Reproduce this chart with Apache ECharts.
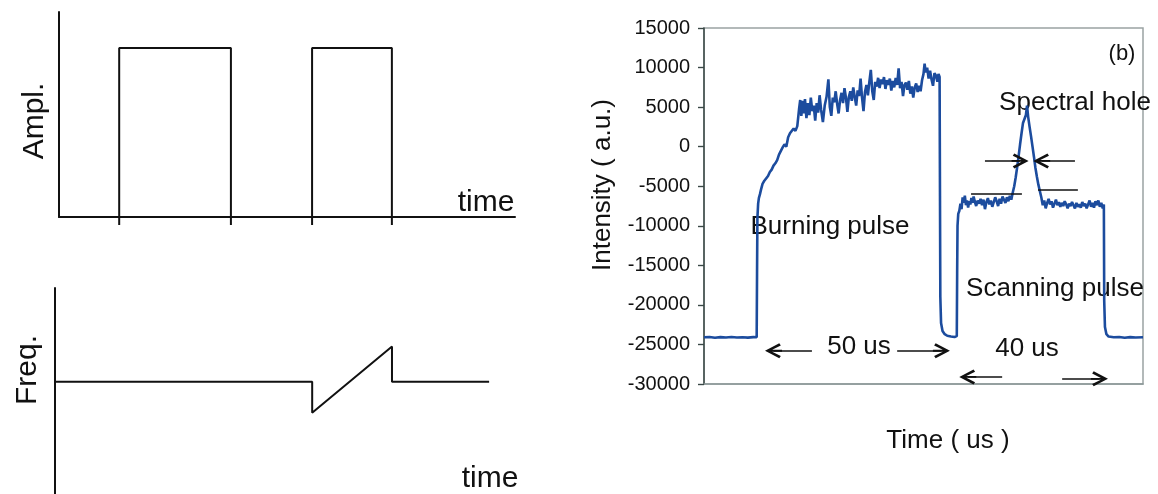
<!DOCTYPE html>
<html>
<head>
<meta charset="utf-8">
<script src="https://cdn.jsdelivr.net/npm/echarts/dist/echarts.min.js"></script>
<style>
html,body{margin:0;padding:0;background:#fff;}
#main{width:1158px;height:494px;}
</style>
</head>
<body>
<div id="main"></div>
<script>
// ---------- DATA ----------
// (a) schematic: amplitude of the two pulses (time in arbitrary units 0..100)
const burnPulseShape = [[13.2,-0.047],[13.2,1],[37.7,1],[37.7,-0.047]];
const scanPulseShape = [[55.5,-0.047],[55.5,1],[73.0,1],[73.0,-0.047]];
// (a) schematic: frequency (flat, then chirp during the scanning pulse)
const freqShape = [[0,0],[56.4,0],[56.4,-1],[73.9,1.125],[73.9,0],[95.2,0]];

// (b) measured trace: [time (us), intensity (a.u.)]
const baselineBefore = [[0,-24100],[1.5,-24050],[3,-24150],[4.5,-24080],[6,-24120],[7.5,-24060],[9,-24130],[10.5,-24090],[12,-24140],[13.5,-24070],[14.4,-24100]];
const burningPulse = [[14.5,-16000],[14.6,-9000],[14.8,-7200],[15.0,-6500],[15.3,-6000],[15.6,-5400],[16.0,-4700],[16.5,-4300],[17.0,-4500],[17.5,-3700],[18.0,-3200],[18.5,-2900],[19.0,-2400],[19.5,-2100],[20.0,-1700],[20.5,-1000],[21.0,-900],[21.5,-100],[22.0,300],[22.5,0],[23.0,1200],[23.5,1700],[24.0,1500],[24.5,2300],[25.0,2000],[25.5,2600],[26.0,4800],[26.3,5900],[26.6,3900],[27.0,5800],[27.3,4200],[27.6,6000],[28.0,3600],[28.4,5500],[28.8,4000],[29.2,6200],[29.6,4500],[30.0,5200],[30.4,3300],[30.8,5500],[31.2,4300],[31.6,6500],[32.0,4700],[32.5,3100],[33.0,5200],[33.5,6300],[34.0,8500],[34.4,5000],[34.8,3900],[35.2,6200],[35.6,5600],[36.0,7000],[36.4,5400],[36.8,4200],[37.2,5900],[37.6,6800],[38.0,5500],[38.4,7400],[38.8,6200],[39.2,4400],[39.6,6300],[40.0,7000],[40.4,5800],[40.8,7500],[41.2,6300],[41.6,5200],[42.0,7100],[42.4,6400],[42.8,8600],[43.2,6200],[43.6,4500],[44.0,6900],[44.4,7800],[44.8,6500],[45.2,8200],[45.6,9700],[46.0,7000],[46.4,5900],[46.8,8200],[47.2,7600],[47.6,8700],[48.0,7400],[48.4,8500],[48.8,7900],[49.2,8800],[49.6,7300],[50.0,8400],[50.4,7800],[50.8,8600],[51.2,7100],[51.6,8300],[52.0,7500],[52.4,8700],[52.8,7800],[53.2,9900],[53.6,7400],[54.0,8200],[54.4,6400],[54.8,7800],[55.2,8100],[55.6,7200],[56.0,8300],[56.4,6700],[56.8,7600],[57.2,6200],[57.6,7500],[58.0,8000],[58.4,6900],[58.8,7700],[59.2,7000],[59.6,8400],[60.0,9200],[60.3,10500],[60.6,9400],[61.0,10000],[61.4,8600],[61.8,9600],[62.2,8500],[62.6,7700],[63.0,9300],[63.4,9000],[63.8,8200],[64.1,9200],[64.4,8800],[64.5,8600]];
const gapBetween = [[64.6,-19000],[64.8,-22300],[65.2,-23300],[65.8,-23700],[66.5,-23900],[67.5,-24000],[68.5,-24050],[69.1,-23950]];
const scanningPulse = [[69.2,-16000],[69.3,-10000],[69.5,-8500],[69.8,-8100],[70.1,-7200],[70.4,-7900],[70.7,-6400],[71.0,-7100],[71.3,-6200],[71.6,-7400],[71.9,-6800],[72.2,-7700],[72.5,-6900],[72.8,-7300],[73.1,-6500],[73.4,-7100],[73.7,-6300],[74.0,-6900],[74.4,-7500],[74.8,-6800],[75.2,-7200],[75.6,-6600],[76.0,-7400],[76.4,-6700],[76.8,-7900],[77.2,-7000],[77.6,-6500],[78.0,-7300],[78.4,-6800],[78.8,-7600],[79.2,-7000],[79.6,-6400],[80.0,-6900],[80.4,-7500],[80.8,-6600],[81.2,-7200],[81.6,-6300],[82.0,-6700],[82.4,-7100],[82.8,-6400],[83.2,-6900],[83.6,-6200],[84.0,-6700],[84.4,-5800],[84.8,-5000],[85.2,-3900],[85.6,-2600],[86.0,-1200],[86.4,300],[86.8,1700],[87.2,3000],[87.6,3100],[88.0,4000],[88.3,5200],[88.6,3800],[89.0,2500],[89.4,1300],[89.8,0],[90.2,-1300],[90.6,-2700],[91.0,-3800],[91.4,-4800],[91.8,-5600],[92.2,-6400],[92.6,-7400],[93.0,-6800],[93.4,-7800],[93.8,-7100],[94.2,-6600],[94.6,-7300],[95.0,-6900],[95.4,-7700],[95.8,-7200],[96.2,-6700],[96.6,-7400],[97.0,-7000],[97.4,-7600],[97.8,-7100],[98.2,-7500],[98.6,-6900],[99.0,-7300],[99.4,-7800],[99.8,-7200],[100.2,-7500],[100.6,-7000],[101.0,-7400],[101.4,-7800],[101.8,-7100],[102.2,-7600],[102.6,-7300],[103.0,-7700],[103.4,-7000],[103.8,-7500],[104.2,-7200],[104.6,-7800],[105.0,-7300],[105.4,-6800],[105.8,-7600],[106.2,-7100],[106.6,-7700],[107.0,-6900],[107.4,-7400],[107.8,-6800],[108.2,-7600],[108.6,-7100],[109.0,-7800],[109.3,-7300]];
const baselineAfter = [[109.4,-19500],[109.6,-22800],[110.0,-23700],[110.6,-24000],[112,-24100],[113.5,-24050],[115,-24150],[116.5,-24080],[118,-24120],[120,-24100]];

// y tick values of (b)
const yTicks = [-30000,-25000,-20000,-15000,-10000,-5000,0,5000,10000,15000];

// annotations of (b) in data units: [tail, head]
const holeWidthArrows = [[[76.8,-1800],[86.4,-1800]], [[101.4,-1800],[92.3,-1800]]];
const holeBaseLines   = [[[73.0,-6000],[86.9,-6000]], [[91.3,-5500],[102.2,-5500]]];
const burnSpanArrows  = [[[29.5,-25800],[19.0,-25800]], [[52.8,-25800],[64.9,-25800]]];
const scanSpanArrows  = [[[81.5,-29100],[72.1,-29100]], [[97.9,-29350],[108.1,-29350]]];

// ---------- CHART ----------
const FONT = '"Liberation Sans", Arial, Helvetica, sans-serif';
const INK = '#111';
const arrowHead = 'path://M5,0 L10,8.4 L8.5,9.3 L5.6,4.2 L5.6,10 L4.4,10 L4.4,4.2 L1.5,9.3 L0,8.4 Z';

const trace = [].concat(baselineBefore, burningPulse, gapBetween, scanningPulse, baselineAfter);

function arrowLine(pair) {
  return [{coord: pair[0], symbol: 'none'},
          {coord: pair[1], symbol: arrowHead, symbolSize: [15, 17]}];
}
function plainLine(pair) {
  return [{coord: pair[0], symbol: 'none'}, {coord: pair[1], symbol: 'none'}];
}

function label(text, x, y, size, rot) {
  return {
    type: 'text', x: x, y: y, rotation: rot || 0, silent: true,
    style: {text: text, fill: INK, fontSize: size, fontFamily: FONT,
            align: 'center', verticalAlign: 'middle'}
  };
}

const chart = echarts.init(document.getElementById('main'), null, {renderer: 'canvas'});
chart.setOption({
  animation: false,
  backgroundColor: '#fff',
  grid: [
    {left: 59, top: 12, width: 456, height: 205},
    {left: 55, top: 288, width: 456, height: 212},
    {left: 704, top: 28, width: 439, height: 356, show: true,
     borderColor: '#9aa3a3', borderWidth: 1.5, backgroundColor: 'transparent'}
  ],
  xAxis: [
    {gridIndex: 0, type: 'value', min: 0, max: 100,
     axisLine: {show: true, onZero: false, lineStyle: {color: INK, width: 2}},
     axisTick: {show: false}, axisLabel: {show: false}, splitLine: {show: false}},
    {gridIndex: 1, type: 'value', min: 0, max: 100, show: false},
    {gridIndex: 2, type: 'value', min: 0, max: 120,
     axisLine: {show: true, onZero: false, lineStyle: {color: '#8c9898', width: 1.5}},
     axisTick: {show: false}, axisLabel: {show: false}, splitLine: {show: false}}
  ],
  yAxis: [
    {gridIndex: 0, type: 'value', min: 0, max: 1.213,
     axisLine: {show: true, onZero: false, lineStyle: {color: INK, width: 2}},
     axisTick: {show: false}, axisLabel: {show: false}, splitLine: {show: false}},
    {gridIndex: 1, type: 'value', min: -3.6, max: 3.0,
     axisLine: {show: true, onZero: false, lineStyle: {color: INK, width: 2}},
     axisTick: {show: false}, axisLabel: {show: false}, splitLine: {show: false}},
    {gridIndex: 2, type: 'value', min: yTicks[0], max: yTicks[yTicks.length - 1], interval: 5000,
     axisLine: {show: true, onZero: false, lineStyle: {color: '#3a4846', width: 1.5}},
     axisTick: {show: true, inside: false, length: 6, lineStyle: {color: '#3a4846', width: 1.2}},
     axisLabel: {show: true, color: INK, fontSize: 20, fontFamily: FONT, margin: 14,
                 formatter: function (v) { return String(v); }},
     splitLine: {show: false}},
    {gridIndex: 2, type: 'value', min: yTicks[0], max: yTicks[yTicks.length - 1], interval: 5000,
     axisLine: {show: false},
     axisTick: {show: true, inside: true, length: 6, lineStyle: {color: '#3a4846', width: 1.2}},
     axisLabel: {show: false}, splitLine: {show: false}}
  ],
  series: [
    {type: 'line', xAxisIndex: 0, yAxisIndex: 0, data: burnPulseShape, clip: false,
     showSymbol: false, silent: true, lineStyle: {color: INK, width: 2}},
    {type: 'line', xAxisIndex: 0, yAxisIndex: 0, data: scanPulseShape, clip: false,
     showSymbol: false, silent: true, lineStyle: {color: INK, width: 2}},
    {type: 'line', xAxisIndex: 1, yAxisIndex: 1, data: freqShape, clip: false,
     showSymbol: false, silent: true, lineStyle: {color: INK, width: 2}},
    {type: 'line', xAxisIndex: 2, yAxisIndex: 2, data: trace,
     showSymbol: false, silent: true, lineStyle: {color: '#1c4c9e', width: 2.6},
     markLine: {
       silent: true, animation: false, symbol: 'none',
       label: {show: false},
       lineStyle: {color: INK, width: 1.7, type: 'solid'},
       emphasis: {disabled: true},
       data: [].concat(
         holeWidthArrows.map(arrowLine),
         holeBaseLines.map(plainLine),
         burnSpanArrows.map(arrowLine),
         scanSpanArrows.map(arrowLine)
       )
     }}
  ],
  graphic: [
    label('Ampl.', 34.5, 121, 30, Math.PI / 2),
    label('time', 486, 203, 30),
    label('Freq.', 27.5, 370, 30, Math.PI / 2),
    label('time', 490, 479, 30),
    label('Intensity ( a.u.)', 603, 185, 26, Math.PI / 2),
    label('Time ( us )', 948, 441, 26),
    label('(b)', 1122, 54, 22),
    label('Spectral hole', 1075, 103, 26),
    label('Burning pulse', 830, 227, 26),
    label('Scanning pulse', 1055, 289, 26),
    label('50 us', 859, 347, 26),
    label('40 us', 1027, 349, 26)
  ]
});
</script>
</body>
</html>
